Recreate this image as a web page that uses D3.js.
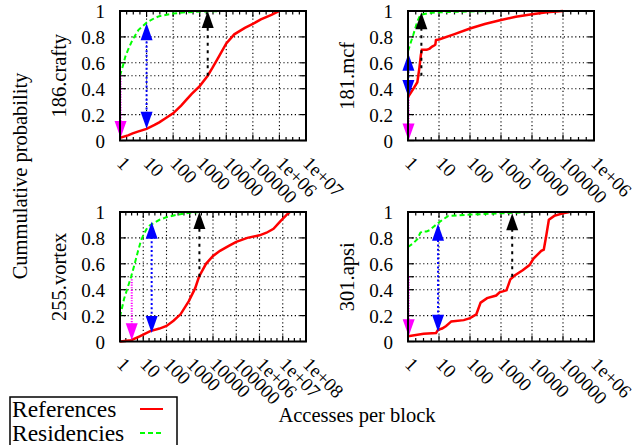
<!DOCTYPE html>
<html>
<head>
<meta charset="utf-8">
<script src="https://cdn.jsdelivr.net/npm/d3@7"></script>
<style>
body{margin:0;background:#fff;}
</style>
</head>
<body>
<svg id="chart" width="635" height="445"></svg>
<script>
var w = 635, h = 445;
var serif = "'Liberation Serif', 'Times New Roman', Times, serif";

// panels, in reading order
var panelNames = ["186.crafty", "181.mcf", "255.vortex", "301.apsi"];
var xMaxExp = [7, 6, 8, 6];
var yTicks = [0, 0.2, 0.4, 0.6, 0.8, 1];
var yGrid = [0.2, 0.4, 0.5, 0.6, 0.8];

// cumulative curves [accesses, probability]
var craftyRefs = [[1,0.02],[2,0.04],[3,0.055],[5,0.07],[10,0.09],[20,0.12],[30,0.14],[50,0.17],[100,0.21],[200,0.27],[300,0.31],[500,0.36],[1000,0.42],[2000,0.5],[3000,0.56],[5000,0.64],[10000,0.75],[20000,0.82],[50000,0.87],[100000,0.9],[200000,0.935],[500000,0.97],[1000000,1]];
var craftyRes = [[1,0.5],[1.3,0.58],[1.6,0.65],[2,0.7],[3,0.78],[5,0.855],[10,0.91],[20,0.945],[30,0.96],[100,0.98],[300,0.99],[1000,0.996],[10000,1],[1000000,1]];
var mcfRefs = [[1,0.335],[1.5,0.4],[2,0.45],[2.3,0.55],[2.6,0.66],[2.8,0.7],[4,0.7],[5,0.71],[6,0.725],[7.2,0.735],[7.6,0.74],[8,0.775],[10,0.78],[30,0.82],[100,0.865],[300,0.9],[1000,0.93],[3000,0.955],[10000,0.975],[30000,0.99],[100000,1]];
var mcfRes = [[1,0.69],[1.5,0.82],[2,0.92],[2.5,0.97],[5,0.985],[10,0.99],[100,0.997],[1000,1],[100000,1]];
var vortexRefs = [[1,0],[3,0.01],[7,0.04],[20,0.08],[50,0.1],[100,0.12],[200,0.16],[400,0.21],[900,0.31],[1700,0.41],[2500,0.5],[5000,0.6],[10000,0.66],[20000,0.7],[50000,0.74],[100000,0.77],[300000,0.8],[1000000,0.82],[2000000,0.84],[4000000,0.87],[8000000,0.93],[15000000,0.98],[20000000,1]];
var vortexRes = [[1,0.19],[1.5,0.33],[2,0.4],[3,0.5],[4,0.58],[6,0.7],[8,0.78],[10,0.82],[15,0.88],[20,0.9],[50,0.94],[100,0.96],[300,0.98],[1000,0.995],[3000,1],[20000000,1]];
var apsiRefs = [[1,0.04],[3.2,0.06],[8,0.065],[9.3,0.09],[12.6,0.1],[17,0.12],[25,0.155],[63,0.165],[100,0.18],[160,0.21],[220,0.3],[355,0.335],[700,0.355],[900,0.38],[1500,0.395],[2000,0.48],[2750,0.51],[5000,0.55],[8300,0.59],[11200,0.64],[20000,0.7],[24000,0.71],[29000,0.82],[35000,0.94],[52000,0.97],[100000,0.99],[160000,1]];
var apsiRes = [[1,0.73],[1.5,0.76],[2,0.79],[2.5,0.84],[3,0.85],[4,0.85],[5,0.86],[7,0.89],[10,0.92],[15,0.95],[20,0.97],[100,0.98],[1000,0.99],[10000,1],[100000,1]];

var panelRefs = [craftyRefs, mcfRefs, vortexRefs, apsiRefs];
var panelRes = [craftyRes, mcfRes, vortexRes, apsiRes];

// arrows [x, from, to]
var resMedianArrows = [[1.05,0.5,0.02],[1.04,0.335,0],[3.2,0.48,0.01],[1.05,0.5,0.04]];
var gapArrows = [[10,0.09,0.905],[1.03,0.335,0.67],[23,0.065,0.925],[9.3,0.075,0.91]];
var refMedianArrows = [[2000,0.5,1],[2.7,0.5,0.99],[2600,0.5,1],[2300,0.5,0.99]];

var legendNames = ["References", "Residencies"];

var cols = [120, 408], rows = [11, 212];
var pw = 186, ph = 129.5;

var svg = d3.select("#chart").attr("font-family", serif);

function tickText(e){
  if(e >= 6) return "1e+" + String(e).padStart(2, "0");
  return String(Math.pow(10, e));
}

function arrowHead(g, x, yTip, dir, color){
  // dir = -1 pointing up, 1 pointing down
  var len = 17, hw = 6;
  g.append("path")
    .attr("d", "M" + x + "," + yTip + "L" + (x - hw) + "," + (yTip - dir*len) + "L" + (x + hw) + "," + (yTip - dir*len) + "Z")
    .attr("fill", color);
}

function drawArrow(g, xs, ys, a, color, dash, both){
  var x = xs(a[0]), y0 = ys(a[1]), y1 = ys(a[2]);
  var dir = y1 > y0 ? 1 : -1;
  var start = both ? y0 + dir*15 : y0;
  g.append("line")
    .attr("x1", x).attr("x2", x)
    .attr("y1", start).attr("y2", y1 - dir*15)
    .attr("stroke", color).attr("stroke-width", 2)
    .attr("stroke-dasharray", dash);
  arrowHead(g, x, y1, dir, color);
  if(both) arrowHead(g, x, y0, -dir, color);
}

panelNames.forEach(function(name, i){
  var left = cols[i % 2], top = rows[Math.floor(i / 2)];
  var maxE = xMaxExp[i];
  var xScale = d3.scaleLog().domain([1, Math.pow(10, maxE)]).range([left, left + pw]);
  var yScale = d3.scaleLinear().domain([0, 1]).range([top + ph, top]);
  var g = svg.append("g");

  var clipId = "clip" + i;
  svg.append("clipPath").attr("id", clipId)
    .append("rect").attr("x", left).attr("y", top - 2).attr("width", pw).attr("height", ph + 4);

  var decades = d3.range(0, maxE + 1);
  var minors = [];
  decades.slice(0, -1).forEach(function(e){
    [0.25, 0.5, 0.75].forEach(function(f){ minors.push(Math.pow(10, e + f)); });
  });

  // grid
  decades.slice(1, -1).forEach(function(e){
    g.append("line")
      .attr("x1", xScale(Math.pow(10, e))).attr("x2", xScale(Math.pow(10, e)))
      .attr("y1", top).attr("y2", top + ph)
      .attr("stroke", "#000").attr("stroke-width", 1.1).attr("stroke-dasharray", "1.2,2.6");
  });
  yGrid.forEach(function(v){
    g.append("line")
      .attr("x1", left).attr("x2", left + pw)
      .attr("y1", yScale(v)).attr("y2", yScale(v))
      .attr("stroke", "#000").attr("stroke-width", 1.1).attr("stroke-dasharray", "1.2,2.6");
  });

  // ticks, mirrored on all sides
  decades.forEach(function(e){
    var x = xScale(Math.pow(10, e));
    g.append("line").attr("x1", x).attr("x2", x).attr("y1", top + ph).attr("y2", top + ph - 6).attr("stroke", "#000").attr("stroke-width", 1.2);
    g.append("line").attr("x1", x).attr("x2", x).attr("y1", top).attr("y2", top + 6).attr("stroke", "#000").attr("stroke-width", 1.2);
    g.append("text")
      .attr("transform", "translate(" + (x - 4) + "," + (top + ph + 24) + ") rotate(45)")
      .attr("font-family", serif)
      .attr("font-size", 19)
      .text(tickText(e));
  });
  minors.forEach(function(v){
    var x = xScale(v);
    g.append("line").attr("x1", x).attr("x2", x).attr("y1", top + ph).attr("y2", top + ph - 3.5).attr("stroke", "#000").attr("stroke-width", 1.2);
    g.append("line").attr("x1", x).attr("x2", x).attr("y1", top).attr("y2", top + 3.5).attr("stroke", "#000").attr("stroke-width", 1.2);
  });
  yTicks.concat([0.5]).forEach(function(v){
    var y = yScale(v);
    g.append("line").attr("x1", left).attr("x2", left + 6).attr("y1", y).attr("y2", y).attr("stroke", "#000").attr("stroke-width", 1.2);
    g.append("line").attr("x1", left + pw).attr("x2", left + pw - 6).attr("y1", y).attr("y2", y).attr("stroke", "#000").attr("stroke-width", 1.2);
  });
  yTicks.forEach(function(v){
    g.append("text")
      .attr("x", left - 15).attr("y", yScale(v)).attr("dy", "0.38em")
      .attr("text-anchor", "end")
      .attr("font-family", serif)
      .attr("font-size", 19)
      .text(v);
  });

  // curves
  var line = d3.line()
    .x(function(d){ return xScale(d[0]); })
    .y(function(d){ return yScale(d[1]); });
  var curves = g.append("g").attr("clip-path", "url(#" + clipId + ")");
  curves.append("path").datum(panelRefs[i])
    .attr("d", line).attr("fill", "none")
    .attr("stroke", "#ff0000").attr("stroke-width", 2.5);
  curves.append("path").datum(panelRes[i])
    .attr("d", line).attr("fill", "none")
    .attr("stroke", "#00ff00").attr("stroke-width", 2).attr("stroke-dasharray", "5,3");

  // arrows
  drawArrow(g, xScale, yScale, resMedianArrows[i], "#ff00ff", "1.2,1.4", false);
  drawArrow(g, xScale, yScale, gapArrows[i], "#0000ff", "2,2.4", true);
  drawArrow(g, xScale, yScale, refMedianArrows[i], "#000", "3,4.5", false);

  // frame
  g.append("rect")
    .attr("x", left).attr("y", top).attr("width", pw).attr("height", ph)
    .attr("fill", "none").attr("stroke", "#000").attr("stroke-width", 2);

  // panel label
  g.append("text")
    .attr("transform", "translate(" + (left - 54) + "," + (top + ph / 2) + ") rotate(-90)")
    .attr("text-anchor", "middle")
    .attr("font-family", serif)
    .attr("font-size", 20.5)
    .text(name);
});

svg.append("text")
  .attr("transform", "translate(27,176) rotate(-90)")
  .attr("text-anchor", "middle")
  .attr("font-family", serif)
  .attr("font-size", 20.5)
  .text("Cummulative probability");

svg.append("text")
  .attr("x", 357).attr("y", 422)
  .attr("text-anchor", "middle")
  .attr("font-family", serif)
  .attr("font-size", 20.5)
  .text("Accesses per block");

// legend
var legend = svg.append("g");
legend.append("rect")
  .attr("x", 10).attr("y", 397).attr("width", 167).attr("height", 70)
  .attr("fill", "#fff").attr("stroke", "#000").attr("stroke-width", 1.5);
legendNames.forEach(function(name, k){
  var y = 417 + k * 24;
  legend.append("text")
    .attr("x", 12).attr("y", y)
    .attr("font-family", serif)
    .attr("font-size", 23.5)
    .text(name);
  legend.append("line")
    .attr("x1", 140).attr("x2", 163).attr("y1", y - 8).attr("y2", y - 8)
    .attr("stroke", k === 0 ? "#ff0000" : "#00ff00")
    .attr("stroke-width", 2)
    .attr("stroke-dasharray", k === 0 ? null : "5,3");
});
</script>
</body>
</html>
